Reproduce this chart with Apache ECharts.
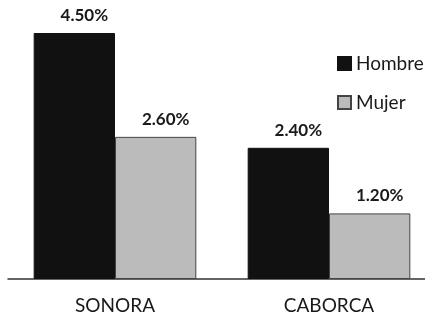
<!DOCTYPE html>
<html>
<head>
<meta charset="utf-8">
<script src="https://cdn.jsdelivr.net/npm/echarts@6/dist/echarts.min.js"></script>
<style>
  html, body { margin: 0; padding: 0; background: #fff; }
  #chart { width: 425px; height: 318px; }
</style>
</head>
<body>
<div id="chart"></div>
<script>
var categories = ['SONORA', 'CABORCA'];
var hombre = [4.5, 2.4];
var mujer = [2.6, 1.2];

var chart = echarts.init(document.getElementById('chart'));

var labelStyle = {
    show: true,
    position: 'top',
    distance: 9,
    offset: [10, 0],
    fontFamily: 'Lato',
    fontWeight: 'bold',
    fontSize: 17,
    color: '#1a1a1a',
    formatter: function (p) {
        return p.value.toFixed(2) + '%';
    }
};

chart.setOption({
    animation: false,
    grid: {
        left: 8,
        width: 428,
        top: 33,
        bottom: 39,
        outerBoundsMode: 'none'
    },
    legend: {
        orient: 'vertical',
        left: 337,
        top: 54,
        padding: 0,
        itemWidth: 13,
        itemHeight: 13,
        itemGap: 20,
        icon: 'rect',
        textStyle: {
            fontFamily: 'Lato',
            fontSize: 19,
            color: '#1a1a1a'
        },
        data: ['Hombre', 'Mujer']
    },
    xAxis: {
        type: 'category',
        data: categories,
        axisLine: { lineStyle: { color: '#333', width: 1.5 } },
        axisTick: { show: false },
        axisLabel: {
            margin: 17,
            fontFamily: 'Lato',
            fontSize: 19,
            color: '#1a1a1a'
        }
    },
    yAxis: {
        type: 'value',
        min: 0,
        max: 4.5,
        show: false
    },
    series: [{
        name: 'Hombre',
        type: 'bar',
        data: hombre,
        barGap: '0%',
        barCategoryGap: '24%',
        itemStyle: {
            color: '#111',
            borderColor: '#111',
            borderWidth: 1
        },
        label: labelStyle
    }, {
        name: 'Mujer',
        type: 'bar',
        data: mujer,
        itemStyle: {
            color: '#bbbbbb',
            borderColor: '#444',
            borderWidth: 1
        },
        label: labelStyle
    }]
});
</script>
</body>
</html>
